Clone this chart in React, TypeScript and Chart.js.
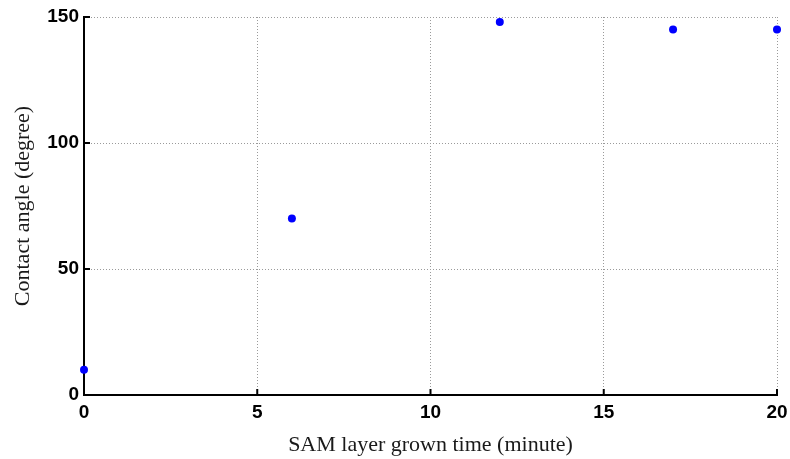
import React, { useEffect, useRef } from "react";
import { Chart, registerables } from "chart.js";

Chart.register(...registerables);

const growTimes = [0, 6, 12, 17, 20];
const contactAngles = [10, 70, 148, 145, 145];
const xTicks = [0, 5, 10, 15, 20];
const yTicks = [0, 50, 100, 150];

const inwardTicks = {
  id: "inwardTicks",
  afterDraw(chart: any) {
    const { ctx, chartArea, scales } = chart;
    ctx.save();
    ctx.strokeStyle = "#000";
    ctx.lineWidth = 2;
    ctx.beginPath();
    for (const v of xTicks) {
      const px = scales.x.getPixelForValue(v);
      ctx.moveTo(px, chartArea.bottom);
      ctx.lineTo(px, chartArea.bottom - 6);
    }
    for (const v of yTicks) {
      const py = scales.y.getPixelForValue(v);
      ctx.moveTo(chartArea.left, py);
      ctx.lineTo(chartArea.left + 6, py);
    }
    ctx.stroke();
    ctx.restore();
  },
};

export default function App() {
  const ref = useRef<HTMLCanvasElement>(null);
  useEffect(() => {
    if (!ref.current) return;
    const chart = new Chart(ref.current, {
      type: "scatter",
      data: {
        datasets: [
          {
            data: growTimes.map((t, i) => ({ x: t, y: contactAngles[i] })),
            backgroundColor: "#0000ff",
            borderColor: "#0000ff",
            pointRadius: 4,
            borderWidth: 0,
            clip: false,
          },
        ],
      },
      options: {
        animation: false,
        responsive: false,
        layout: { padding: { top: 17, right: 13, left: 0, bottom: 0 } },
        plugins: { legend: { display: false }, tooltip: { enabled: false } },
        scales: {
          x: {
            type: "linear",
            min: 0,
            max: 20,
            afterFit: (s: any) => {
              s.height = 64;
              s.paddingLeft = 0;
              s.paddingRight = 0;
            },
            afterBuildTicks: (s: any) => {
              s.ticks = xTicks.map((v) => ({ value: v }));
            },
            grid: { color: "#9a9a9a", lineWidth: 1, drawTicks: false },
            border: { display: true, color: "#000", width: 2, dash: [1, 2] },
            ticks: {
              padding: 6,
              color: "#000",
              maxRotation: 0,
              font: { family: "Liberation Sans", weight: "bold", size: 19 },
            },
            title: {
              display: true,
              text: "SAM layer grown time (minute)",
              color: "#1a1a1a",
              font: { family: "Liberation Serif", size: 22 },
              padding: { top: 0, bottom: 1 },
            },
          },
          y: {
            min: 0,
            max: 150,
            afterFit: (s: any) => {
              s.width = 84;
              s.paddingTop = 0;
              s.paddingBottom = 0;
            },
            afterBuildTicks: (s: any) => {
              s.ticks = yTicks.map((v) => ({ value: v }));
            },
            grid: { color: "#9a9a9a", lineWidth: 1, drawTicks: false },
            border: { display: true, color: "#000", width: 2, dash: [1, 2] },
            ticks: {
              padding: 5,
              color: "#000",
              font: { family: "Liberation Sans", weight: "bold", size: 19 },
            },
            title: {
              display: true,
              text: "Contact angle (degree)",
              color: "#1a1a1a",
              font: { family: "Liberation Serif", size: 22 },
              padding: { top: 10, bottom: 0 },
            },
          },
        },
      },
      plugins: [inwardTicks],
    });
    return () => chart.destroy();
  }, []);
  return (
    <div style={{ position: "fixed", left: 0, top: 0, width: 790, height: 459, background: "#fff" }}>
      <canvas ref={ref} width={790} height={459} style={{ display: "block" }} />
    </div>
  );
}
